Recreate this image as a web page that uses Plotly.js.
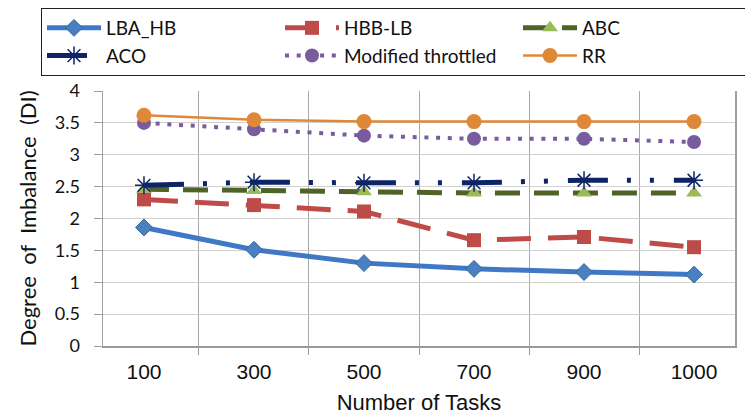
<!DOCTYPE html>
<html>
<head>
<meta charset="utf-8">
<script src="https://cdn.plot.ly/plotly-3.0.1.min.js"></script>
<style>html,body{margin:0;padding:0;background:#fff;}#chart{width:745px;height:416px;}</style>
</head>
<body>
<div id="chart"></div>
<script>
// ---- data ----
var tasks = ["100", "300", "500", "700", "900", "1000"];
var lbaHB = [1.86, 1.51, 1.30, 1.21, 1.16, 1.12];
var hbbLB = [2.30, 2.21, 2.11, 1.66, 1.71, 1.55];
var abc = [2.46, 2.44, 2.42, 2.40, 2.40, 2.40];
var aco = [2.52, 2.57, 2.56, 2.56, 2.60, 2.60];
var modThrottled = [3.50, 3.40, 3.30, 3.25, 3.25, 3.20];
var rr = [3.62, 3.55, 3.52, 3.52, 3.52, 3.52];
var yTicks = [0, 0.5, 1, 1.5, 2, 2.5, 3, 3.5, 4];

var traces = [
  {name: "LBA_HB", x: tasks, y: lbaHB, mode: "lines+markers",
   line: {color: "#3f78c4", width: 5},
   marker: {symbol: "diamond", size: 13, color: "#4a7fc0", line: {color: "#35689f", width: 1}}},
  {name: "HBB-LB", x: tasks, y: hbbLB, mode: "lines+markers",
   line: {color: "#be4b48", width: 5, dash: "34px,17px"},
   marker: {symbol: "square", size: 14, color: "#be4b48"}},
  {name: "ABC", x: tasks, y: abc, mode: "lines+markers",
   line: {color: "#4f6228", width: 5, dash: "25px,14px"},
   marker: {symbol: "triangle-up", size: 14, color: "#9bbb59"}},
  {name: "ACO", x: tasks, y: aco, mode: "lines+markers",
   line: {color: "#0d2466", width: 5, dash: "40px,19px,4px,19px,4px,20px"},
   marker: {symbol: "asterisk-open", size: 15, color: "#0d2466", line: {color: "#1f3f8f", width: 1.5}}},
  {name: "Modified throttled", x: tasks, y: modThrottled, mode: "lines+markers",
   line: {color: "#7a5c9e", width: 4, dash: "4px,7.7px"},
   marker: {symbol: "circle", size: 14, color: "#7a5c9e"}},
  {name: "RR", x: tasks, y: rr, mode: "lines+markers",
   line: {color: "#e0883a", width: 2.5},
   marker: {symbol: "circle", size: 15, color: "#e0883a"}}
];

var layout = {
  width: 745, height: 416,
  margin: {l: 103, r: 10, t: 91, b: 70, autoexpand: false},
  paper_bgcolor: "#ffffff", plot_bgcolor: "#ffffff",
  showlegend: true,
  legend: {
    orientation: "h", xref: "paper", yref: "paper",
    x: (41 - 103) / 632, xanchor: "left", y: 1 + 83 / 255, yanchor: "top",
    entrywidth: 169, itemwidth: 54,
    bordercolor: "#222222", borderwidth: 1, bgcolor: "#ffffff",
    font: {family: "Lato, 'Open Sans', sans-serif", size: 19, color: "#111111"},
    traceorder: "normal"
  },
  xaxis: {
    type: "category", tickson: "boundaries",
    showgrid: true, gridcolor: "#a8a8a8", gridwidth: 1,
    showline: true, linecolor: "#9a9a9a", linewidth: 1.5,
    ticks: "outside", ticklen: 7, tickcolor: "#9a9a9a",
    tickfont: {family: "'Liberation Sans', Arial, sans-serif", size: 21, color: "#111111"},
    ticklabelstandoff: 6,
    title: {text: "Number of Tasks", standoff: 13,
            font: {family: "'Liberation Sans', Arial, sans-serif", size: 22, color: "#111111"}},
    automargin: false, fixedrange: true
  },
  yaxis: {
    range: [0, 4], tickvals: yTicks,
    showgrid: true, gridcolor: "#d0d0d0", gridwidth: 1,
    showline: true, linecolor: "#a0a0a0", linewidth: 1.5, mirror: true,
    ticks: "outside", ticklen: 8, tickcolor: "#a0a0a0",
    tickfont: {family: "Lato, 'Open Sans', sans-serif", size: 18, color: "#111111"},
    ticklabelstandoff: 10, zeroline: false,
    title: {text: "Degree\u00a0\u00a0of\u00a0\u00a0Imbalance\u00a0\u00a0(DI)", standoff: 12,
            font: {family: "Lato, 'Open Sans', sans-serif", size: 22, color: "#111111"}},
    automargin: false, fixedrange: true
  }
};

Plotly.newPlot("chart", traces, layout, {displayModeBar: false, staticPlot: true});
</script>
</body>
</html>
